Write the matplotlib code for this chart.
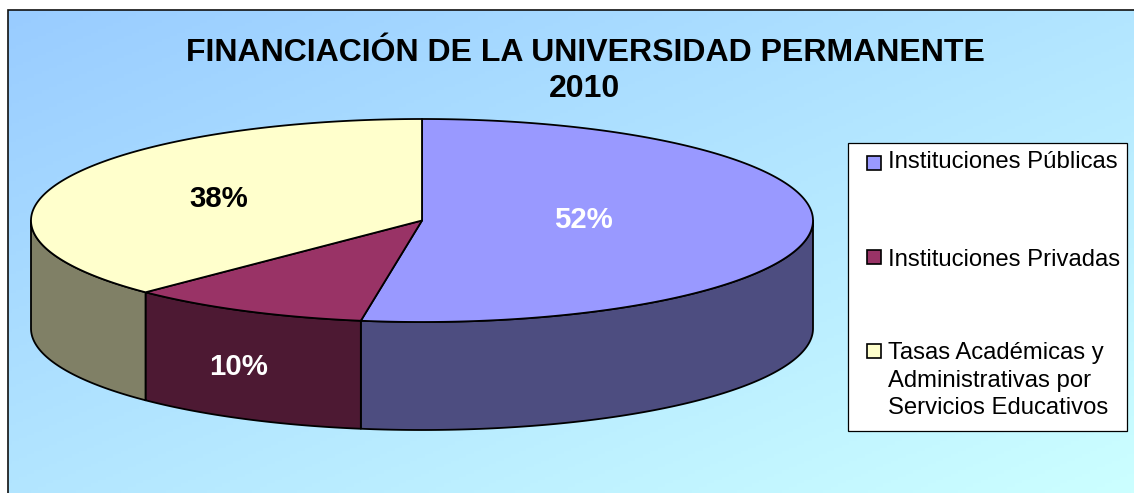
import numpy as np
import matplotlib
matplotlib.use("Agg")
import matplotlib.pyplot as plt
from matplotlib.patches import Rectangle

plt.rcParams['font.family'] = ['Liberation Sans', 'DejaVu Sans']

# ---- data ----
categories = ["Instituciones Públicas", "Instituciones Privadas",
              "Tasas Académicas y\nAdministrativas por\nServicios Educativos"]
shares = [52.5, 10.0, 37.5]
percent_labels = ["52%", "10%", "38%"]
title_lines = ["FINANCIACIÓN DE LA UNIVERSIDAD PERMANENTE", "2010"]

# ---- styles ----
top_colors = ["#9999FF", "#993366", "#FFFFCC"]
side_colors = ["#4D4D80", "#4D1933", "#808066"]
label_colors = ["white", "white", "black"]
label_pos = [(583, 220), (239, 367), (219, 199)]
legend_y = [162.5, 257, 350.5]

W, H = 1134, 493
CX, CY, RX, RY, DEPTH = 422, 220.5, 391, 101.5, 108

fig = plt.figure(figsize=(W / 100, H / 100), dpi=100, facecolor="white")
ax = fig.add_axes([0, 0, 1, 1])
ax.set_xlim(0, W)
ax.set_ylim(H, 0)
ax.axis("off")

# background gradient
FL, FT = 7.5, 10
xx, yy = np.meshgrid(np.linspace(0, 1, 300), np.linspace(0, 1, 150))
t = np.clip(0.5 * xx + 0.5 * yy, 0, 1)[..., None]
c0, c1 = np.array([0x99, 0xCC, 0xFF]) / 255, np.array([0xCC, 0xFF, 0xFF]) / 255
ax.imshow(c0 * (1 - t) + c1 * t, extent=(FL, W, H, FT), aspect="auto", zorder=0)
ax.set_xlim(0, W)
ax.set_ylim(H, 0)
ax.plot([FL, FL, W], [H, FT, FT], color="#111111", lw=1.2, zorder=1,
        solid_joinstyle="miter")


def px(deg):
    return CX + RX * np.sin(np.radians(deg))


def py(deg):
    return CY - RY * np.cos(np.radians(deg))


edges = np.concatenate([[0], np.cumsum(shares)]) / sum(shares) * 360

# side walls (front half only)
for a0, a1, col in zip(edges[:-1], edges[1:], side_colors):
    lo, hi = max(a0, 90), min(a1, 270)
    if hi <= lo:
        continue
    a = np.linspace(lo, hi, 200)
    xs = np.r_[px(a), px(a[::-1])]
    ys = np.r_[py(a), py(a[::-1]) + DEPTH]
    ax.fill(xs, ys, facecolor=col, edgecolor="black", lw=1.3, zorder=2,
            joinstyle="round")

# top surface
for a0, a1, col in zip(edges[:-1], edges[1:], top_colors):
    a = np.linspace(a0, a1, 300)
    ax.fill(np.r_[CX, px(a)], np.r_[CY, py(a)], facecolor=col,
            edgecolor="black", lw=1.3, zorder=3, joinstyle="round")

# percent labels
for lab, col, (x, y) in zip(percent_labels, label_colors, label_pos):
    ax.text(x, y, lab, color=col, fontsize=21.2, fontweight="bold",
            ha="center", va="center", zorder=5)

# title
ax.text(585, 53, title_lines[0], fontsize=23.05, fontweight="bold", ha="center",
        va="center", color="black", zorder=5)
ax.text(585, 89, title_lines[1], fontsize=23.05, fontweight="bold", ha="center",
        va="center", color="black", zorder=5)

# legend box
ax.add_patch(Rectangle((847.5, 143), 279, 288, facecolor="white",
                       edgecolor="black", lw=0.9, zorder=4))
for lab, col, y, dy in zip(categories, top_colors, legend_y, [11, 8, 8]):
    ax.add_patch(Rectangle((866.5, y - 7), 14, 14, facecolor=col,
                           edgecolor="black", lw=1.2, zorder=5))
    ax.text(888, y - dy, lab, fontsize=17.2, color="black", ha="left", va="top",
            linespacing=1.32, zorder=5)

fig.savefig("out.png", dpi=100, facecolor="white")
